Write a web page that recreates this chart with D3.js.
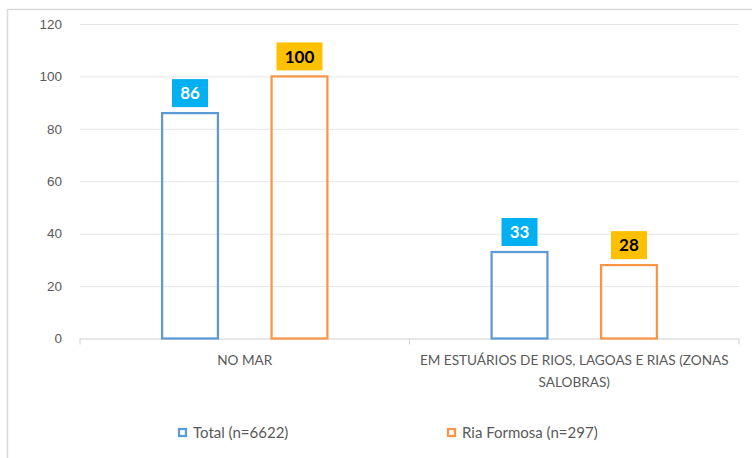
<!DOCTYPE html>
<html>
<head>
<meta charset="utf-8">
<script src="https://cdn.jsdelivr.net/npm/d3@7"></script>
<style>
  body { margin: 0; background: #fff; }
  svg { display: block; font-family: "Lato", "Liberation Sans", sans-serif; }
</style>
</head>
<body>
<div id="chart"></div>
<script>
const categories = ["NO MAR", "EM ESTUÁRIOS DE RIOS, LAGOAS E RIAS (ZONAS SALOBRAS)"];
const categoryLines = [["NO MAR"], ["EM ESTUÁRIOS DE RIOS, LAGOAS E RIAS (ZONAS", "SALOBRAS)"]];
const seriesNames = ["Total (n=6622)", "Ria Formosa (n=297)"];
const totalValues = [86, 33];
const riaValues = [100, 28];
const yTicks = [0, 20, 40, 60, 80, 100, 120];

const width = 752, height = 458;
const plot = { left: 80, right: 739, top: 24, bottom: 338.5 };

const strokeColors = ["#5B9BD5", "#F79646"];
const labelFill = ["#00B0F0", "#FFC000"];
const labelText = ["#ffffff", "#000000"];

const svg = d3.select("#chart").append("svg")
  .attr("width", width)
  .attr("height", height);

// chart frame
svg.append("rect")
  .attr("x", 7.5).attr("y", 9.5)
  .attr("width", 760).attr("height", 460)
  .attr("fill", "#fff")
  .attr("stroke", "#d9d9d9")
  .attr("stroke-width", 1.5);

const y = d3.scaleLinear().domain([0, 120]).range([plot.bottom, plot.top]);

const x0 = d3.scaleBand()
  .domain(categories)
  .range([plot.left, plot.right])
  .paddingInner(0)
  .paddingOuter(0);

const x1 = d3.scaleBand()
  .domain(seriesNames)
  .range([0, x0.bandwidth()])
  .paddingInner(0.49)
  .paddingOuter(0.75);

// gridlines
const yAxis = svg.append("g")
  .attr("transform", `translate(${plot.left},0)`)
  .call(d3.axisLeft(y).tickValues(yTicks).tickSize(-(plot.right - plot.left)).tickPadding(18));
yAxis.select(".domain").remove();
yAxis.selectAll(".tick line")
  .attr("stroke", (d) => d === 0 ? "#d0d0d0" : "#e6e6e6")
  .attr("stroke-width", 1);
yAxis.selectAll(".tick text")
  .attr("fill", "#595959")
  .style("font-size", "13.5px");

// category axis ticks
const xAxis = svg.append("g")
  .attr("transform", `translate(0,${plot.bottom})`);
const tickPositions = [plot.left, ...categories.map(c => x0(c) + x0.bandwidth())];
xAxis.selectAll("line.sep")
  .data(tickPositions)
  .enter().append("line")
  .attr("x1", d => d).attr("x2", d => d)
  .attr("y1", 0).attr("y2", 6)
  .attr("stroke", "#d0d0d0");

xAxis.selectAll("text.cat")
  .data(categories)
  .enter().append("text")
  .attr("class", "cat")
  .attr("text-anchor", "middle")
  .attr("fill", "#595959")
  .style("font-size", "13.6px")
  .attr("x", d => x0(d) + x0.bandwidth() / 2)
  .each(function (d, i) {
    categoryLines[i].forEach((line, j) => {
      d3.select(this).append("tspan")
        .attr("x", x0(d) + x0.bandwidth() / 2)
        .attr("y", 26 + j * 22)
        .text(line);
    });
  });

// bars
const seriesData = [totalValues, riaValues];
seriesData.forEach((vals, s) => {
  const g = svg.append("g");
  g.selectAll("rect")
    .data(vals)
    .enter().append("rect")
    .attr("x", (d, i) => x0(categories[i]) + x1(seriesNames[s]))
    .attr("y", d => y(d))
    .attr("width", x1.bandwidth())
    .attr("height", d => plot.bottom - y(d))
    .attr("fill", "none")
    .attr("stroke", strokeColors[s])
    .attr("stroke-width", 2.25);

  const lbl = g.selectAll("g.lbl")
    .data(vals)
    .enter().append("g")
    .attr("transform", (d, i) => `translate(${x0(categories[i]) + x1(seriesNames[s]) + x1.bandwidth() / 2},${y(d) - 20})`);
  lbl.append("rect")
    .attr("x", d => -(String(d).length * 5 + 8))
    .attr("y", -14)
    .attr("width", d => String(d).length * 10 + 16)
    .attr("height", 28)
    .attr("fill", labelFill[s]);
  lbl.append("text")
    .attr("text-anchor", "middle")
    .attr("dy", "0.36em")
    .attr("fill", labelText[s])
    .style("font-size", "17px")
    .style("font-weight", "bold")
    .text(d => d);
});

// legend
const legendX = [178, 447];
const legend = svg.append("g").attr("transform", "translate(0,433)");
seriesNames.forEach((name, s) => {
  legend.append("rect")
    .attr("x", legendX[s] + 1)
    .attr("y", -4)
    .attr("width", 7)
    .attr("height", 7)
    .attr("fill", "none")
    .attr("stroke", strokeColors[s])
    .attr("stroke-width", 2.25);
  legend.append("text")
    .attr("x", legendX[s] + 15)
    .attr("dy", "0.35em")
    .attr("fill", "#595959")
    .style("font-size", "15px")
    .text(name);
});
</script>
</body>
</html>
